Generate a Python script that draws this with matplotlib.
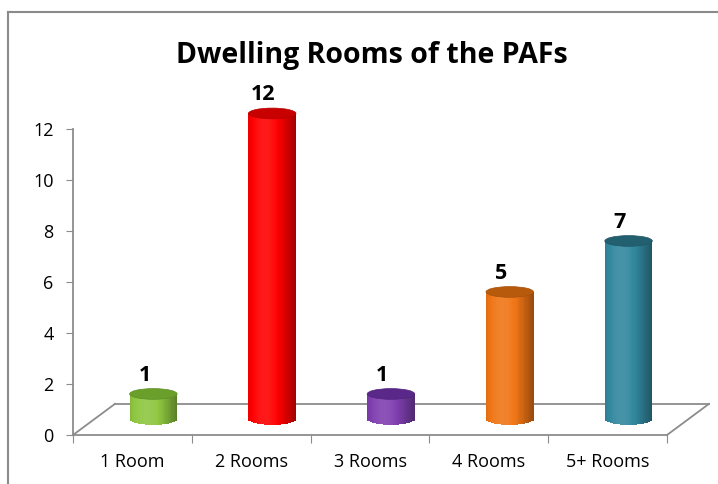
import matplotlib.pyplot as plt
import numpy as np
from matplotlib.patches import Ellipse, Rectangle
from matplotlib.lines import Line2D

categories = ['1 Room', '2 Rooms', '3 Rooms', '4 Rooms', '5+ Rooms']
values = [1, 12, 1, 5, 7]
body_colors = ['#8dc63f', '#ff0000', '#7f3fb0', '#f07515', '#31879e']
top_colors = ['#6a9f2c', '#c80000', '#5a2888', '#b85a0c', '#22606f']

plt.rcParams['font.family'] = ['Open Sans', 'DejaVu Sans']

W, H = 718, 484
fig = plt.figure(figsize=(W / 100, H / 100), dpi=100)
ax = fig.add_axes([73 / W, 49 / H, 594 / W, 306 / H])
ax.set_xlim(0, len(categories))
ax.set_ylim(0, 12)

# depth of the 3d floor, in data units
dx, dy = 0.353, 1.22
bar_w = 0.40
ell_h = 0.42
grey = '#8c8c8c'


def shade(c, f):
    rgb = np.array(plt.matplotlib.colors.to_rgb(c))
    if f >= 1:
        return tuple(rgb + (1 - rgb) * (f - 1))
    return tuple(rgb * f)


# floor
ax.plot([dx, len(categories) + dx], [dy, dy], color=grey, lw=1.3, clip_on=False)
ax.plot([0, dx], [0, dy], color=grey, lw=1.3, clip_on=False)
ax.plot([len(categories), len(categories) + dx], [0, dy], color=grey, lw=1.3, clip_on=False)

n = 40
for i, v in enumerate(values):
    cx = i + 0.5 + dx / 2
    y0 = dy / 2
    x_left = cx - bar_w / 2
    for k in range(n):
        t = (k + 0.5) / n
        f = 0.78 + 0.32 * np.cos((t - 0.35) * np.pi)
        yb = y0 - ell_h / 2 * np.sqrt(max(0, 1 - (2 * t - 1) ** 2))
        ax.add_patch(Rectangle((x_left + k * bar_w / n, yb), bar_w / n * 1.05, y0 + v - yb,
                               facecolor=shade(body_colors[i], f), lw=0, clip_on=False, zorder=3))
    ax.add_patch(Ellipse((cx, y0 + v), bar_w, ell_h, facecolor=top_colors[i],
                         edgecolor=shade(top_colors[i], 0.9), lw=0.5, clip_on=False, zorder=4))
    ax.text(cx - 0.075, y0 + v + 0.74, str(v), ha='center', va='center',
            fontsize=15.5, fontweight='bold', zorder=5)

for s in ['top', 'right']:
    ax.spines[s].set_visible(False)
for s in ['left', 'bottom']:
    ax.spines[s].set_color(grey)
    ax.spines[s].set_linewidth(1.3)

ax.set_yticks(range(0, 13, 2))
ax.tick_params(axis='y', length=5, color=grey, labelsize=13, pad=9)
ax.set_xticks(range(len(categories) + 1))
ax.set_xticklabels([])
ax.set_xticks(np.arange(len(categories)) + 0.5, minor=True)
ax.set_xticklabels(categories, minor=True)
ax.tick_params(axis='x', which='major', length=6, color=grey)
ax.tick_params(axis='x', which='minor', length=0, labelsize=13, pad=13)

fig.text(372 / W, 1 - 56 / H, 'Dwelling Rooms of the PAFs', ha='center', va='center',
         fontsize=20.5, fontweight='bold')

# chart border
fig.add_artist(Line2D([8 / W, 8 / W], [0, 1 - 12 / H], color='#8a8a8a', lw=1.5))
fig.add_artist(Line2D([8 / W, 1], [1 - 12 / H, 1 - 12 / H], color='#8a8a8a', lw=1.5))

fig.savefig('out.png', dpi=100)
